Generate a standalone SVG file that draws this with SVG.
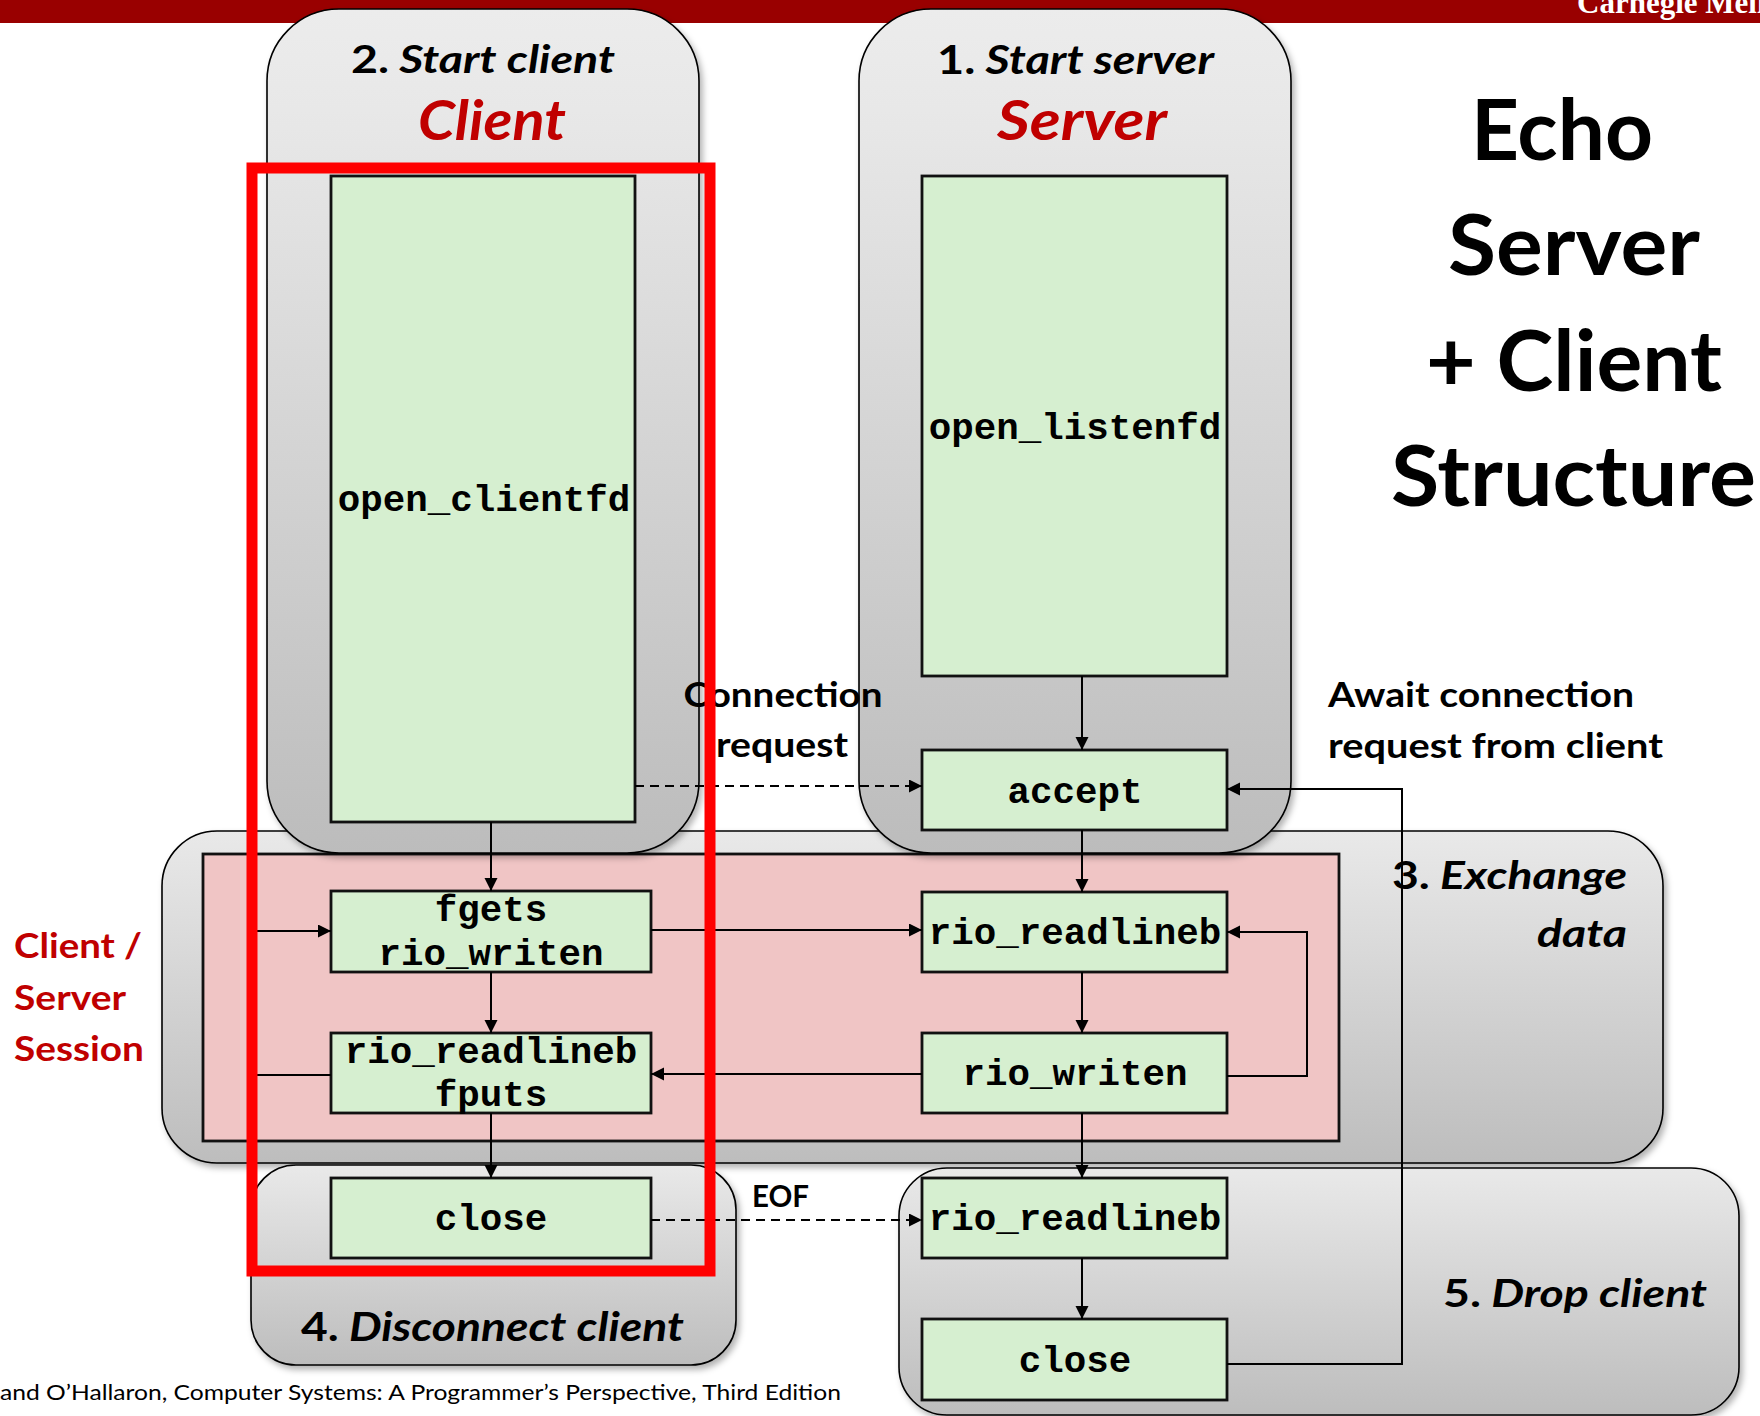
<svg xmlns="http://www.w3.org/2000/svg" width="1760" height="1416" viewBox="0 0 1760 1416">
<defs>
<style>
.mono{font-family:"Liberation Mono","Courier New",monospace;font-weight:bold;font-size:37.5px;text-anchor:middle;fill:#000}
.lbl{font-family:Lato,"Open Sans","Liberation Sans",sans-serif;font-weight:bold;fill:#000}
.it{font-style:italic}
.red{fill:#c00000}
.box{fill:#d6efd0;stroke:#111;stroke-width:2.8}
.pane{stroke:#000;stroke-width:1.6}
.wire{fill:none;stroke:#000;stroke-width:2}
.dash{fill:none;stroke:#000;stroke-width:2.2;stroke-dasharray:9 6}
</style>
<linearGradient id="gPill" x1="0" y1="0" x2="0" y2="1">
<stop offset="0" stop-color="#ececec"/>
<stop offset="0.12" stop-color="#e8e8e8"/>
<stop offset="1" stop-color="#bcbcbc"/>
</linearGradient>
<linearGradient id="gPane" x1="0" y1="0" x2="0" y2="1">
<stop offset="0" stop-color="#e9e9e9"/>
<stop offset="1" stop-color="#bdbdbd"/>
</linearGradient>
<filter id="sh" x="-5%" y="-5%" width="115%" height="115%">
<feDropShadow dx="3" dy="4" stdDeviation="3" flood-color="#000" flood-opacity="0.3"/>
</filter>
<marker id="arr" markerUnits="userSpaceOnUse" markerWidth="14" markerHeight="14" refX="13" refY="6.5" orient="auto">
<path d="M0,0 L13,6.5 L0,13 z" fill="#000"/>
</marker>
</defs>

<rect width="1760" height="1416" fill="#fff"/>

<g id="header">
<rect x="0" y="0" width="1760" height="23" fill="#990000"/>
<text x="1577" y="13" font-family="Liberation Serif,Times New Roman,serif" font-weight="bold" font-size="31" fill="#fff">Carnegie Mellon</text>
</g>

<g id="stage3-exchange">
<rect class="pane" x="162" y="831" width="1501" height="332" rx="55" fill="url(#gPane)" filter="url(#sh)"/>
<text class="lbl" font-size="39" x="1627" y="889" text-anchor="end" textLength="235" lengthAdjust="spacingAndGlyphs">3.<tspan class="it"> Exchange</tspan></text>
<text class="lbl it" font-size="39" x="1627" y="947" text-anchor="end" textLength="90" lengthAdjust="spacingAndGlyphs">data</text>
</g>

<g id="session">
<rect x="203" y="854" width="1136" height="287" fill="#f0c5c5" stroke="#111" stroke-width="2.8"/>
</g>

<g id="client-pane">
<rect class="pane" x="267" y="9" width="432" height="844" rx="72" fill="url(#gPill)" filter="url(#sh)"/>
<text class="lbl" font-size="39" x="351" y="73" textLength="264" lengthAdjust="spacingAndGlyphs">2.<tspan class="it"> Start client</tspan></text>
<text class="lbl it red" font-size="56" x="418" y="140" textLength="148" lengthAdjust="spacingAndGlyphs">Client</text>
</g>

<g id="server-pane">
<rect class="pane" x="859" y="9" width="432" height="844" rx="72" fill="url(#gPill)" filter="url(#sh)"/>
<text class="lbl" font-size="40" x="937" y="74" textLength="277" lengthAdjust="spacingAndGlyphs">1.<tspan class="it"> Start server</tspan></text>
<text class="lbl it red" font-size="55" x="997" y="140" textLength="170" lengthAdjust="spacingAndGlyphs">Server</text>
</g>

<g id="stage4-disconnect">
<rect class="pane" x="251" y="1165" width="485" height="200" rx="45" fill="url(#gPane)" filter="url(#sh)"/>
<text class="lbl" font-size="40" x="301" y="1341" textLength="383" lengthAdjust="spacingAndGlyphs">4.<tspan class="it"> Disconnect client</tspan></text>
</g>

<g id="stage5-drop">
<rect class="pane" x="899" y="1168" width="840" height="247" rx="48" fill="url(#gPane)" filter="url(#sh)"/>
<text class="lbl" font-size="39" x="1443" y="1307" textLength="264" lengthAdjust="spacingAndGlyphs">5.<tspan class="it"> Drop client</tspan></text>
</g>

<g id="n-open_clientfd">
<rect class="box" x="331" y="176" width="304" height="646"/>
<text class="mono" x="484" y="511">open_clientfd</text>
</g>
<g id="n-open_listenfd">
<rect class="box" x="922" y="176" width="305" height="500"/>
<text class="mono" x="1075" y="439">open_listenfd</text>
</g>
<g id="n-accept">
<rect class="box" x="922" y="750" width="305" height="80"/>
<text class="mono" x="1075" y="803">accept</text>
</g>
<g id="n-fgets-writen">
<rect class="box" x="331" y="891" width="320" height="81"/>
<text class="mono" x="491" y="921">fgets</text>
<text class="mono" x="491" y="965">rio_writen</text>
</g>
<g id="n-readlineb-fputs">
<rect class="box" x="331" y="1033" width="320" height="80"/>
<text class="mono" x="491" y="1063">rio_readlineb</text>
<text class="mono" x="491" y="1106">fputs</text>
</g>
<g id="n-client-close">
<rect class="box" x="331" y="1178" width="320" height="80"/>
<text class="mono" x="491" y="1230">close</text>
</g>
<g id="n-server-readlineb">
<rect class="box" x="922" y="892" width="305" height="80"/>
<text class="mono" x="1075" y="944">rio_readlineb</text>
</g>
<g id="n-server-writen">
<rect class="box" x="922" y="1033" width="305" height="80"/>
<text class="mono" x="1075" y="1085">rio_writen</text>
</g>
<g id="n-drop-readlineb">
<rect class="box" x="922" y="1178" width="305" height="80"/>
<text class="mono" x="1075" y="1230">rio_readlineb</text>
</g>
<g id="n-server-close">
<rect class="box" x="922" y="1319" width="305" height="81"/>
<text class="mono" x="1075" y="1372">close</text>
</g>

<g id="connectors">
<path class="wire" d="M491,822 V891" marker-end="url(#arr)"/>
<path class="wire" d="M491,972 V1033" marker-end="url(#arr)"/>
<path class="wire" d="M491,1113 V1178" marker-end="url(#arr)"/>
<path class="wire" d="M331,1075 H252 V931 H331" marker-end="url(#arr)"/>
<path class="wire" d="M651,930 H922" marker-end="url(#arr)"/>
<path class="wire" d="M922,1074 H651" marker-end="url(#arr)"/>
<path class="wire" d="M1227,1076 H1307 V932 H1227" marker-end="url(#arr)"/>
<path class="wire" d="M1082,676 V750" marker-end="url(#arr)"/>
<path class="wire" d="M1082,830 V892" marker-end="url(#arr)"/>
<path class="wire" d="M1082,972 V1033" marker-end="url(#arr)"/>
<path class="wire" d="M1082,1113 V1178" marker-end="url(#arr)"/>
<path class="wire" d="M1082,1258 V1319" marker-end="url(#arr)"/>
<path class="wire" d="M1227,1364 H1402 V789 H1227" marker-end="url(#arr)"/>
<path class="dash" d="M635,786 H922" marker-end="url(#arr)"/>
<path class="dash" d="M651,1220 H922" marker-end="url(#arr)"/>
</g>

<g id="labels">
<text class="lbl" font-size="35" x="783" y="707" text-anchor="middle" textLength="199" lengthAdjust="spacingAndGlyphs">Connection</text>
<text class="lbl" font-size="35" x="782" y="757" text-anchor="middle" textLength="132" lengthAdjust="spacingAndGlyphs">request</text>
<text class="lbl" font-size="35" x="1328" y="707" textLength="306" lengthAdjust="spacingAndGlyphs">Await connection</text>
<text class="lbl" font-size="35" x="1328" y="758" textLength="335" lengthAdjust="spacingAndGlyphs">request from client</text>
<text class="lbl" font-size="30" x="752" y="1207" textLength="57" lengthAdjust="spacingAndGlyphs">EOF</text>
<text class="lbl red" font-size="35" x="14" y="958" textLength="128" lengthAdjust="spacingAndGlyphs">Client /</text>
<text class="lbl red" font-size="35" x="14" y="1010" textLength="112" lengthAdjust="spacingAndGlyphs">Server</text>
<text class="lbl red" font-size="35" x="14" y="1061" textLength="130" lengthAdjust="spacingAndGlyphs">Session</text>
</g>

<g id="title">
<text class="lbl" font-size="84" x="1471" y="160" textLength="182" lengthAdjust="spacingAndGlyphs">Echo</text>
<text class="lbl" font-size="84" x="1448" y="275" textLength="252" lengthAdjust="spacingAndGlyphs">Server</text>
<text class="lbl" font-size="84" x="1426" y="391" textLength="296" lengthAdjust="spacingAndGlyphs">+ Client</text>
<text class="lbl" font-size="84" x="1391" y="506" textLength="365" lengthAdjust="spacingAndGlyphs">Structure</text>
</g>

<g id="footer">
<text font-family="Lato,'Open Sans',sans-serif" font-size="21" x="0" y="1400" textLength="841" lengthAdjust="spacingAndGlyphs" fill="#000">and O’Hallaron, Computer Systems: A Programmer’s Perspective, Third Edition</text>
</g>

<g id="highlight">
<rect x="252" y="168" width="458" height="1103" fill="none" stroke="#ff0000" stroke-width="11"/>
</g>
</svg>
